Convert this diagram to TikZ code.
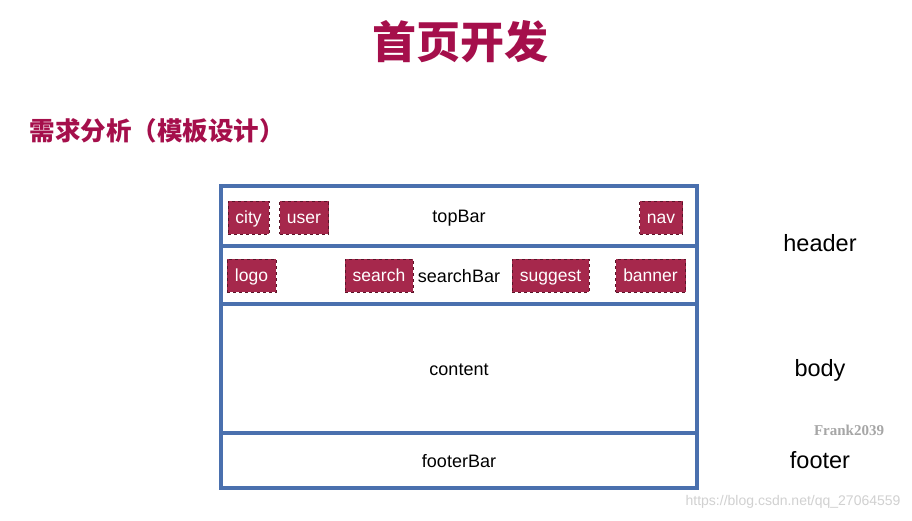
\documentclass[tikz,border=0pt]{standalone}
\usepackage{fontspec}
\setmainfont{Liberation Sans}
\newfontfamily\cjk{Noto Sans CJK SC}
\newfontfamily\wmfont{Liberation Serif}
\definecolor{titlered}{RGB}{165,15,75}
\definecolor{tagred}{RGB}{166,40,76}
\definecolor{tagedge}{RGB}{90,20,40}
\definecolor{barblue}{RGB}{74,112,174}
\tikzset{
  bar/.style={draw=barblue,line width=3.2pt,minimum width=476pt,inner sep=0pt,
    text height=16pt,text depth=2pt,font=\fontsize{18}{21}\selectfont},
  tag/.style={fill=tagred,draw=tagedge,dashed,line width=0.6pt,text=white,inner sep=0pt,minimum height=33pt,
    text height=14pt,text depth=2pt,font=\fontsize{17.5}{20}\selectfont},
  sidelabel/.style={font=\fontsize{23.5}{28}\selectfont}
}
\begin{document}
\begin{tikzpicture}[x=1pt,y=-1pt]
\useasboundingbox[fill=white] (0,0) rectangle (912,521);
% titles
\node[text=titlered,font=\cjk\bfseries\fontsize{44}{50}\selectfont] (title) at (460,42) {首页开发};
\node[text=titlered,font=\cjk\bfseries\fontsize{25.5}{30}\selectfont,anchor=west] (subtitle) at (26,131) {需求分析（模板设计）};
% template frame
\node[bar,minimum height=60pt] (topBar) at (459,216) {topBar};
\node[bar,minimum height=58pt] (searchBar) at (459,275) {searchBar};
\node[bar,minimum height=129pt] (content) at (459,368.5) {content};
\node[bar,minimum height=55pt] (footerBar) at (459,460.5) {footerBar};
% blocks in topBar
\node[tag,minimum width=41pt] (city) at (248.5,217.5) {city};
\node[tag,minimum width=49pt] (user) at (304,217.5) {user};
\node[tag,minimum width=43pt] (nav) at (661,217.5) {nav};
% blocks in searchBar
\node[tag,minimum width=49pt] (logo) at (251.5,275.5) {logo};
\node[tag,minimum width=68pt] (search) at (379,275.5) {search};
\node[tag,minimum width=77pt] (suggest) at (550.5,275.5) {suggest};
\node[tag,minimum width=70pt] (banner) at (650.5,275.5) {banner};
% side labels
\node[sidelabel] (header) at (820,243) {header};
\node[sidelabel] (body) at (820,370) {body};
\node[sidelabel] (footer) at (820,460) {footer};
% watermarks
\node[text=black!35,font=\wmfont\bfseries\fontsize{15}{18}\selectfont] (mark) at (849,430) {Frank2039};
\node[text=black!18,font=\fontsize{14}{17}\selectfont,anchor=east] (url) at (904,502) {https://blog.csdn.net/qq\_27064559};
\end{tikzpicture}
\end{document}
